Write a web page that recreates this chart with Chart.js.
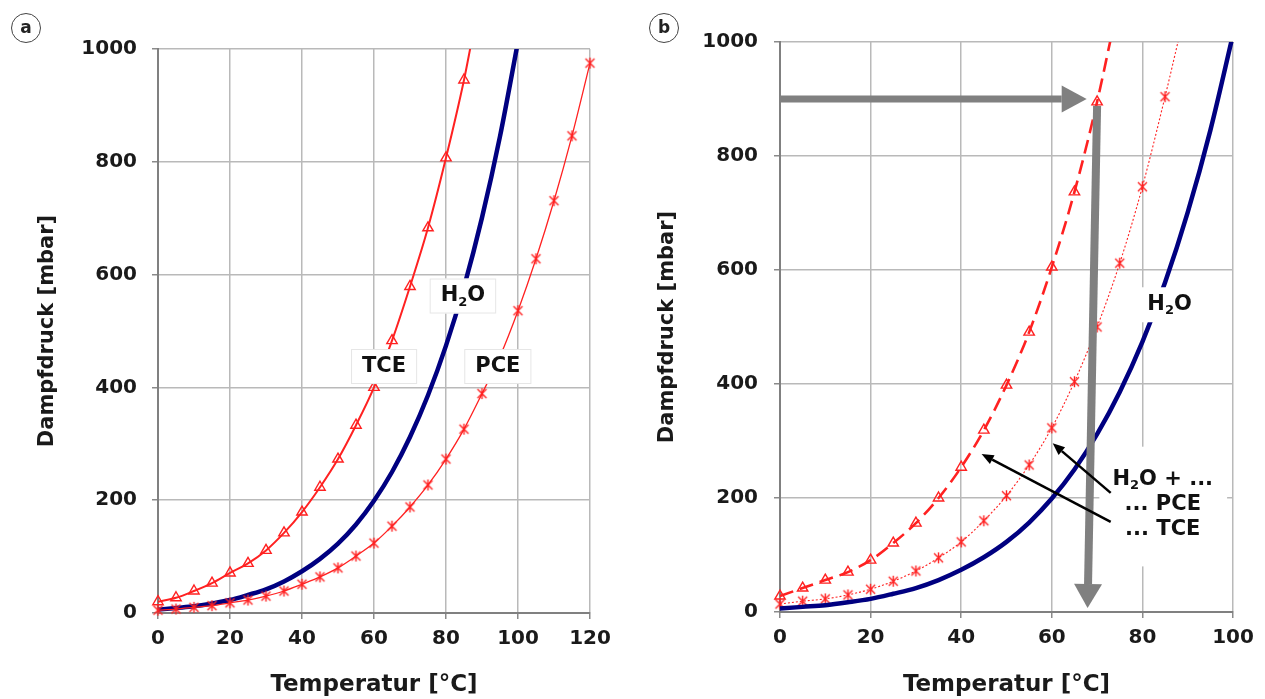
<!DOCTYPE html>
<html>
<head>
<meta charset="utf-8">
<script src="https://cdn.jsdelivr.net/npm/chart.js@4/dist/chart.umd.min.js"></script>
<style>
  body { margin: 0; background: #fff; width: 1265px; height: 699px; overflow: hidden; position: relative; font-family: 'DejaVu Sans', sans-serif; }
  canvas { position: absolute; top: 0; }
  #chartA { left: 0; }
  #chartB { left: 632px; }
  .panel { position: absolute; width: 28px; height: 28px; border: 1.5px solid #444; border-radius: 50%;
           font: bold 17px 'DejaVu Sans', sans-serif; color: #222; text-align: center; line-height: 26px; background: #fff; }
</style>
</head>
<body>
<canvas id="chartA" width="632" height="699"></canvas>
<canvas id="chartB" width="633" height="699"></canvas>
<div class="panel" style="left:11px;top:13px;">a</div>
<div class="panel" style="left:649px;top:13px;">b</div>
<script>
// Daten (Dampfdruck in mbar)
const h2oTemp = [0, 5, 10, 15, 20, 25, 30, 35, 40, 45, 50, 55, 60, 65, 70, 75, 80, 85, 90, 95, 100];
const h2oVap  = [6, 9, 12, 17, 23, 32, 42, 56, 74, 96, 123, 157, 199, 250, 312, 386, 474, 578, 701, 845, 1013];

// Diagramm a: Reinstoffe
const tceTempA = [0, 5, 10, 15, 20, 25, 30, 35, 40, 45, 50, 55, 60, 65, 70, 75, 80, 85, 87];
const tceVapA  = [20, 27, 39, 53, 71, 88, 111, 142, 179, 223, 273, 333, 400, 483, 579, 683, 807, 945, 1010];
const pceTempA = [0, 5, 10, 15, 20, 25, 30, 35, 40, 45, 50, 55, 60, 65, 70, 75, 80, 85, 90, 95, 100, 105, 110, 115, 120];
const pceVapA  = [5, 7, 10, 13, 18, 23, 30, 39, 51, 64, 80, 101, 124, 154, 188, 227, 273, 326, 389, 455, 536, 628, 731, 846, 975];

// Diagramm b: Gemische mit Wasser
const tceTempB = [0, 5, 10, 15, 20, 25, 30, 35, 40, 45, 50, 55, 60, 65, 70, 73];
const tceMixB  = [28, 42, 56, 70, 91, 121, 156, 200, 254, 319, 398, 491, 605, 737, 895, 1005];
const pceTempB = [0, 5, 10, 15, 20, 25, 30, 35, 40, 45, 50, 55, 60, 65, 70, 75, 80, 85, 88];
const pceMixB  = [14, 19, 23, 30, 40, 54, 72, 95, 123, 160, 204, 258, 323, 404, 500, 612, 746, 904, 1005];

const xTicksA = [0, 20, 40, 60, 80, 100, 120];
const xTicksB = [0, 20, 40, 60, 80, 100];
const yTicks  = [0, 200, 400, 600, 800, 1000];

const RED = '#ff2121';
const NAVY = '#000080';
const GREY = '#808080';

Chart.defaults.font.family = "'DejaVu Sans', sans-serif";
Chart.defaults.font.weight = 'bold';
Chart.defaults.color = '#1a1a1a';

function pts(xs, ys) {
    return xs.map((x, i) => ({ x: x, y: ys[i] }));
}

// Markierung: Kreuz mit senkrechtem Strich
function starMark(size) {
    const c = document.createElement('canvas');
    c.width = size; c.height = size;
    const g = c.getContext('2d');
    g.strokeStyle = RED;
    g.lineWidth = 1.4;
    g.beginPath();
    g.moveTo(2, 2); g.lineTo(size - 2, size - 2);
    g.moveTo(size - 2, 2); g.lineTo(2, size - 2);
    g.moveTo(size / 2, 1); g.lineTo(size / 2, size - 1);
    g.stroke();
    return c;
}
const star = starMark(13);

// letzter Punkt nur für die Linie, ohne Markierung
function hideLast(r) {
    return ctx => ctx.dataIndex === ctx.dataset.data.length - 1 ? 0 : r;
}

function makeScales(xMax, xTicks, yWidth, xHeight, yTitlePad, yTickPad) {
    return {
        x: {
            type: 'linear', min: 0, max: xMax,
            afterBuildTicks: s => { s.ticks = xTicks.map(v => ({ value: v })); },
            afterFit: s => { s.height = xHeight; },
            grid: { color: '#b9b9b9', lineWidth: 1.5, tickLength: 6, tickColor: '#8a8a8a' },
            border: { color: GREY, width: 2 },
            ticks: { font: { size: 20, weight: 'bold' }, padding: 8, maxRotation: 0, callback: v => String(v) },
            title: { display: true, text: 'Temperatur [°C]', font: { size: 23, weight: 'bold' }, padding: { top: 0, bottom: 0 } }
        },
        y: {
            min: 0, max: 1000,
            afterBuildTicks: s => { s.ticks = yTicks.map(v => ({ value: v })); },
            afterFit: s => { s.width = yWidth; },
            grid: { color: '#b9b9b9', lineWidth: 1.5, tickLength: 6, tickColor: '#8a8a8a' },
            border: { color: GREY, width: 2 },
            ticks: { font: { size: 20, weight: 'bold' }, padding: yTickPad, callback: v => String(v) },
            title: { display: true, text: 'Dampfdruck [mbar]', font: { size: 21, weight: 'bold' }, padding: { top: yTitlePad, bottom: 0 } }
        }
    };
}

// Text mit tiefgestellten Teilen, zentriert
function chemText(ctx, parts, cx, cy, size) {
    ctx.save();
    ctx.textBaseline = 'middle';
    ctx.textAlign = 'left';
    let w = 0;
    parts.forEach(p => {
        ctx.font = 'bold ' + (p[1] ? size * 0.62 : size) + "px 'DejaVu Sans'";
        w += ctx.measureText(p[0]).width;
    });
    let x = cx - w / 2;
    parts.forEach(p => {
        ctx.font = 'bold ' + (p[1] ? size * 0.62 : size) + "px 'DejaVu Sans'";
        ctx.fillStyle = '#111';
        ctx.fillText(p[0], x, p[1] ? cy + size * 0.3 : cy);
        x += ctx.measureText(p[0]).width;
    });
    ctx.restore();
    return w;
}

function labelBox(chart, parts, vx, vy, size, border) {
    const ctx = chart.ctx;
    const cx = chart.scales.x.getPixelForValue(vx);
    const cy = chart.scales.y.getPixelForValue(vy);
    ctx.save();
    let w = 0;
    parts.forEach(p => {
        ctx.font = 'bold ' + (p[1] ? size * 0.62 : size) + "px 'DejaVu Sans'";
        w += ctx.measureText(p[0]).width;
    });
    const bw = w + 22, bh = 35;
    ctx.fillStyle = '#fff';
    ctx.fillRect(cx - bw / 2, cy - bh / 2, bw, bh);
    if (border) {
        ctx.strokeStyle = '#e6e6e6';
        ctx.lineWidth = 1;
        ctx.strokeRect(cx - bw / 2 + 0.5, cy - bh / 2 + 0.5, bw - 1, bh - 1);
    }
    ctx.restore();
    chemText(ctx, parts, cx, cy, size);
}

function arrow(chart, x1, y1, x2, y2, color, lw, headLen, headW) {
    const ctx = chart.ctx;
    const sx = chart.scales.x, sy = chart.scales.y;
    const ax = sx.getPixelForValue(x1), ay = sy.getPixelForValue(y1);
    const bx = sx.getPixelForValue(x2), by = sy.getPixelForValue(y2);
    const ang = Math.atan2(by - ay, bx - ax);
    const ex = bx - Math.cos(ang) * headLen, ey = by - Math.sin(ang) * headLen;
    ctx.save();
    ctx.strokeStyle = color;
    ctx.fillStyle = color;
    ctx.lineWidth = lw;
    ctx.beginPath();
    ctx.moveTo(ax, ay);
    ctx.lineTo(ex, ey);
    ctx.stroke();
    ctx.beginPath();
    ctx.moveTo(bx, by);
    ctx.lineTo(ex + Math.sin(ang) * headW / 2, ey - Math.cos(ang) * headW / 2);
    ctx.lineTo(ex - Math.sin(ang) * headW / 2, ey + Math.cos(ang) * headW / 2);
    ctx.closePath();
    ctx.fill();
    ctx.restore();
}

const H2O = [['H', false], ['2', true], ['O', false]];

const annotA = {
    id: 'annotA',
    afterDatasetsDraw(chart) {
        labelBox(chart, [['TCE', false]], 62.8, 437, 21, true);
        labelBox(chart, [['PCE', false]], 94.4, 437, 21, true);
        labelBox(chart, H2O, 84.7, 562, 21, true);
    }
};

const annotB = {
    id: 'annotB',
    afterDatasetsDraw(chart) {
        const ctx = chart.ctx;
        const sx = chart.scales.x, sy = chart.scales.y;
        // weisser Hintergrund der Beschriftung rechts
        const l = sx.getPixelForValue(70.5), r = sx.getPixelForValue(98.7);
        const t = sy.getPixelForValue(290), b = sy.getPixelForValue(80);
        ctx.save();
        ctx.fillStyle = '#fff';
        ctx.fillRect(l, t, r - l, b - t);
        ctx.restore();
        labelBox(chart, H2O, 86, 539, 21, false);
        // graue Pfeile
        arrow(chart, 0, 900, 67.7, 900, GREY, 7, 25, 27);
        arrow(chart, 70, 888, 67.9, 7, GREY, 8, 24, 28);
        // schwarze Pfeile
        arrow(chart, 73, 209, 60.2, 296, '#000', 2.5, 12, 10);
        arrow(chart, 73, 158, 44.5, 277, '#000', 2.5, 12, 10);
        chemText(ctx, [['H', false], ['2', true], ['O + ...', false]], sx.getPixelForValue(84.5), sy.getPixelForValue(232), 21);
        chemText(ctx, [['... PCE', false]], sx.getPixelForValue(84.5), sy.getPixelForValue(188), 21);
        chemText(ctx, [['... TCE', false]], sx.getPixelForValue(84.5), sy.getPixelForValue(144), 21);
    }
};

const clipBox = { left: 10, top: 0, right: 10, bottom: 10 };

new Chart(document.getElementById('chartA'), {
    type: 'line',
    data: {
        datasets: [
            {
                data: pts(pceTempA, pceVapA), borderColor: RED, borderWidth: 1.3,
                pointStyle: star, pointRadius: 6, cubicInterpolationMode: 'monotone', clip: clipBox
            },
            {
                data: pts(h2oTemp, h2oVap), borderColor: NAVY, borderWidth: 4.5,
                pointRadius: 0, cubicInterpolationMode: 'monotone', clip: clipBox
            },
            {
                data: pts(tceTempA, tceVapA), borderColor: RED, borderWidth: 2,
                pointStyle: 'triangle', pointRadius: hideLast(6), pointBorderColor: RED, pointBorderWidth: 1.4,
                pointBackgroundColor: 'rgba(255,255,255,0)', cubicInterpolationMode: 'monotone', clip: clipBox
            }
        ]
    },
    options: {
        responsive: false,
        animation: false,
        layout: { padding: { left: 0, top: 49, right: 42, bottom: 0 } },
        plugins: { legend: { display: false }, tooltip: { enabled: false } },
        scales: makeScales(120, xTicksA, 158, 86, 35, 15)
    },
    plugins: [annotA]
});

new Chart(document.getElementById('chartB'), {
    type: 'line',
    data: {
        datasets: [
            {
                data: pts(h2oTemp, h2oVap), borderColor: NAVY, borderWidth: 4.5,
                pointRadius: 0, cubicInterpolationMode: 'monotone', clip: clipBox
            },
            {
                data: pts(pceTempB, pceMixB), borderColor: RED, borderWidth: 1.1, borderDash: [2, 2],
                pointStyle: star, pointRadius: hideLast(6), cubicInterpolationMode: 'monotone', clip: clipBox
            },
            {
                data: pts(tceTempB, tceMixB), borderColor: RED, borderWidth: 2.6, borderDash: [14, 7],
                pointStyle: 'triangle', pointRadius: hideLast(6), pointBorderColor: RED, pointBorderWidth: 1.4,
                pointBackgroundColor: 'rgba(255,255,255,0)', cubicInterpolationMode: 'monotone', clip: clipBox
            }
        ]
    },
    options: {
        responsive: false,
        animation: false,
        layout: { padding: { left: 0, top: 42, right: 32, bottom: 0 } },
        plugins: { legend: { display: false }, tooltip: { enabled: false } },
        scales: makeScales(100, xTicksB, 148, 87, 23, 16)
    },
    plugins: [annotB]
});
</script>
</body>
</html>
